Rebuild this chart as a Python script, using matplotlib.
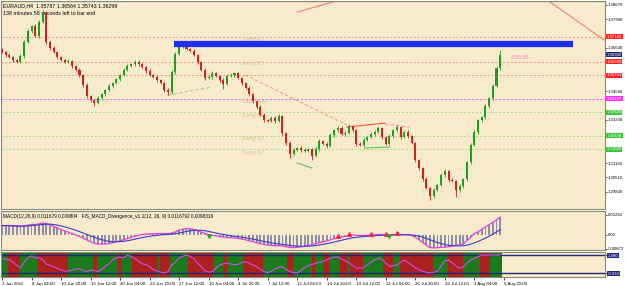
import numpy as np
import matplotlib.pyplot as plt
from matplotlib.transforms import blended_transform_factory

plt.rcParams["font.family"] = ["Liberation Sans", "DejaVu Sans"]

# ---- data (H4 candles, one entry per drawn candle) ----
first_open = 1.3654
closes = [
    1.3644, 1.3630, 1.3620, 1.3606, 1.3597, 1.3625, 1.3691, 1.3743, 1.3767, 1.3720,
    1.3786, 1.3829, 1.3691, 1.3663, 1.3644, 1.3620, 1.3606, 1.3597, 1.3601, 1.3578,
    1.3559, 1.3535, 1.3488, 1.3436, 1.3417, 1.3403, 1.3426, 1.3445, 1.3464, 1.3483,
    1.3497, 1.3516, 1.3535, 1.3559, 1.3578, 1.3587, 1.3597, 1.3587, 1.3573, 1.3554,
    1.3535, 1.3526, 1.3512, 1.3497, 1.3464, 1.3455, 1.3549, 1.3635, 1.3677, 1.3672,
    1.3658, 1.3649, 1.3630, 1.3597, 1.3559, 1.3521, 1.3526, 1.3545, 1.3531, 1.3512,
    1.3493, 1.3531, 1.3535, 1.3545, 1.3521, 1.3497, 1.3474, 1.3445, 1.3412, 1.3384,
    1.3346, 1.3322, 1.3318, 1.3332, 1.3318, 1.3341, 1.3261, 1.3214, 1.3162, 1.3181,
    1.3190, 1.3181, 1.3176, 1.3185, 1.3152, 1.3185, 1.3223, 1.3209, 1.3199, 1.3251,
    1.3275, 1.3285, 1.3256, 1.3261, 1.3294, 1.3275, 1.3209, 1.3204, 1.3228, 1.3242,
    1.3256, 1.3266, 1.3285, 1.3242, 1.3209, 1.3247, 1.3275, 1.3289, 1.3242, 1.3266,
    1.3247, 1.3214, 1.3133, 1.3095, 1.3043, 1.3001, 1.2963, 1.2991, 1.3015, 1.3062,
    1.3081, 1.3039, 1.3034, 1.2991, 1.3010, 1.3043, 1.3124, 1.3204, 1.3266, 1.3322,
    1.3337, 1.3389, 1.3426, 1.3483, 1.3568, 1.3630,
]
# wick lengths in pips above max(open, close) and below min(open, close)
hi_wick = [
    8, 6, 7, 5, 6, 9, 8, 10, 7, 9, 8, 14, 7, 6, 8, 5, 6, 7, 9, 6,
    5, 7, 6, 8, 6, 5, 9, 7, 6, 8, 5, 7, 6, 9, 8, 6, 10, 7, 5, 6,
    8, 6, 7, 5, 6, 8, 9, 11, 14, 8, 7, 6, 9, 5, 6, 8, 10, 7, 6, 5,
    8, 7, 9, 6, 5, 7, 6, 8, 5, 6, 7, 9, 6, 8, 7, 10, 6, 5, 7, 9,
    6, 8, 7, 6, 5, 8, 9, 6, 7, 8, 6, 9, 7, 8, 10, 6, 5, 8, 7, 6,
    9, 7, 10, 6, 5, 8, 7, 9, 6, 8, 7, 6, 5, 7, 6, 8, 5, 9, 7, 8,
    10, 6, 7, 5, 8, 7, 6, 9, 8, 7, 6, 8, 7, 9, 10, 24,
]
lo_wick = [
    7, 8, 6, 9, 7, 6, 8, 5, 7, 6, 8, 6, 7, 9, 5, 8, 6, 7, 5, 8,
    6, 7, 9, 8, 10, 14, 7, 6, 8, 5, 7, 6, 8, 5, 7, 6, 8, 7, 6, 9,
    5, 7, 8, 6, 9, 14, 8, 7, 6, 8, 5, 7, 6, 8, 7, 9, 6, 8, 7, 9,
    25, 7, 6, 8, 5, 7, 6, 8, 7, 9, 6, 8, 7, 6, 9, 7, 8, 10, 19, 7,
    6, 8, 5, 7, 19, 6, 8, 7, 9, 6, 8, 7, 6, 9, 5, 7, 8, 6, 9, 7,
    6, 8, 5, 9, 7, 6, 8, 7, 9, 6, 8, 7, 10, 8, 9, 7, 19, 8, 6, 7,
    9, 8, 7, 33, 8, 9, 7, 8, 6, 9, 7, 10, 8, 7, 6, 8,
]

macd_main = [
    0.0057, 0.0058, 0.0058, 0.0057, 0.0055, 0.0054, 0.0057, 0.0062, 0.0066, 0.0066,
    0.0070, 0.0076, 0.0072, 0.0063, 0.0054, 0.0044, 0.0034, 0.0025, 0.0017, 0.0008,
    0.0000, -0.0010, -0.0020, -0.0032, -0.0043, -0.0052, -0.0057, -0.0058, -0.0057, -0.0054,
    -0.0049, -0.0043, -0.0037, -0.0030, -0.0022, -0.0015, -0.0008, -0.0003, 0.0002, 0.0005,
    0.0007, 0.0008, 0.0009, 0.0009, 0.0008, 0.0008, 0.0012, 0.0020, 0.0030, 0.0036,
    0.0039, 0.0038, 0.0034, 0.0027, 0.0018, 0.0009, 0.0002, -0.0002, -0.0006, -0.0010,
    -0.0014, -0.0016, -0.0018, -0.0019, -0.0022, -0.0026, -0.0031, -0.0037, -0.0043, -0.0049,
    -0.0055, -0.0060, -0.0064, -0.0066, -0.0068, -0.0067, -0.0070, -0.0074, -0.0079, -0.0080,
    -0.0078, -0.0075, -0.0071, -0.0066, -0.0062, -0.0056, -0.0049, -0.0043, -0.0038, -0.0031,
    -0.0024, -0.0017, -0.0012, -0.0008, -0.0003, 0.0000, -0.0002, -0.0004, -0.0004, -0.0003,
    -0.0001, 0.0001, 0.0003, 0.0002, -0.0001, 0.0000, 0.0002, 0.0004, 0.0002, 0.0002,
    0.0001, -0.0003, -0.0015, -0.0030, -0.0048, -0.0065, -0.0080, -0.0082, -0.0080, -0.0077,
    -0.0078, -0.0075, -0.0070, -0.0066, -0.0062, -0.0057, -0.0035, -0.0015, 0.0008, 0.0020,
    0.0035, 0.0050, 0.0065, 0.0080, 0.0095, 0.0112,
]
macd_signal = [
    0.0060, 0.0059, 0.0059, 0.0058, 0.0057, 0.0056, 0.0056, 0.0057, 0.0059, 0.0061,
    0.0063, 0.0066, 0.0068, 0.0068, 0.0066, 0.0062, 0.0057, 0.0051, 0.0044, 0.0037,
    0.0029, 0.0021, 0.0012, 0.0003, -0.0006, -0.0015, -0.0023, -0.0030, -0.0036, -0.0040,
    -0.0043, -0.0043, -0.0042, -0.0040, -0.0036, -0.0032, -0.0027, -0.0022, -0.0017, -0.0012,
    -0.0008, -0.0005, -0.0002, 0.0000, 0.0002, 0.0003, 0.0005, 0.0008, 0.0012, 0.0017,
    0.0022, 0.0026, 0.0029, 0.0030, 0.0029, 0.0026, 0.0022, 0.0017, 0.0012, 0.0007,
    0.0003, -0.0001, -0.0005, -0.0008, -0.0011, -0.0014, -0.0018, -0.0022, -0.0026, -0.0031,
    -0.0036, -0.0041, -0.0046, -0.0050, -0.0054, -0.0057, -0.0060, -0.0063, -0.0066, -0.0069,
    -0.0071, -0.0072, -0.0072, -0.0071, -0.0069, -0.0067, -0.0063, -0.0059, -0.0055, -0.0050,
    -0.0045, -0.0039, -0.0034, -0.0028, -0.0023, -0.0018, -0.0015, -0.0012, -0.0010, -0.0008,
    -0.0006, -0.0005, -0.0003, -0.0002, -0.0001, -0.0001, 0.0000, 0.0001, 0.0001, 0.0001,
    0.0001, 0.0000, -0.0003, -0.0007, -0.0014, -0.0022, -0.0031, -0.0040, -0.0048, -0.0055,
    -0.0061, -0.0065, -0.0068, -0.0069, -0.0069, -0.0068, -0.0064, -0.0058, -0.0050, -0.0041,
    -0.0031, -0.0020, -0.0008, 0.0005, 0.0019, 0.0034,
]
div_bear_idx = [91, 94, 100, 104, 107]
div_bull_idx = [56, 105]

stoch = [
    80, 78, 74, 60, 42, 30, 60, 85, 95, 85, 85, 75, 50, 42, 36, 25, 18, 10, 12, 17,
    22, 24, 14, 9, 16, 15, 9, 20, 38, 52, 73, 85, 88, 85, 100, 90, 82, 65, 52, 46,
    35, 18, 12, 5, 0, 9, 45, 60, 85, 93, 100, 92, 80, 55, 35, 12, 5, 8, 28, 45,
    52, 55, 50, 47, 48, 60, 62, 56, 45, 36, 20, 8, 2, 10, 25, 30, 36, 20, 9, 2,
    0, 15, 30, 42, 47, 55, 60, 64, 74, 82, 88, 90, 78, 68, 58, 42, 28, 27, 30, 45,
    60, 75, 82, 75, 55, 38, 40, 45, 60, 72, 60, 45, 30, 18, 10, 4, 0, 5, 9, 40,
    70, 70, 58, 40, 27, 35, 55, 72, 82, 92, 100, 100, 100, 100, 100, 100,
]
block_edges = [-0.5, 1.6, 4.9, 9.5, 17.9, 24.7, 25.7, 31.4, 32.5, 35.2, 42, 42.8, 45.5,
               50.4, 57.2, 59.9, 61, 65.3, 70.7, 77.2, 78.9, 84, 84.8, 87, 88.9, 91.6,
               93.5, 94.3, 97.8, 103.3, 106, 107.9, 116.8, 120.9, 124.9, 129.5, 132.2, 135.5]
block_bull = [1, 0] * 18 + [1]

date_labels = ["3 Jun 2011", "8 Jun 04:00", "10 Jun 20:00", "15 Jun 12:00", "20 Jun 04:00",
               "22 Jun 20:00", "27 Jun 12:00", "30 Jun 04:00", "4 Jul 20:00", "7 Jul 12:00",
               "12 Jul 04:00", "14 Jul 20:00", "19 Jul 12:00", "22 Jul 04:00", "26 Jul 20:00",
               "29 Jul 12:00", "3 Aug 04:00", "5 Aug 20:00"]
price_ticks = [1.38670, 1.37990, 1.36630, 1.34590, 1.33230, 1.31190, 1.30510, 1.29830]

level_prices = [1.37160, 1.35980, 1.35350, 1.34220, 1.33600, 1.32470, 1.31850]
level_kind = ["res", "res", "res", "pivot", "sup", "sup", "sup"]
swing_names = ["Swing R2", "Swing R1", "Daily Pivot", "Swing S1", "Swing S2", "Swing S3"]
swing_prices = [1.3701, 1.3592, 1.3408, 1.3346, 1.3237, 1.3171]

zone_start, zone_end, zone_price = 46.6, 154.7, 1.3682
trend_solid = [((80, 1.3833), (91.6, 1.3890), "#f08070"),
               ((147.7, 1.3890), (164, 1.3691), "#f08070"),
               ((93.5, 1.3289), (103.8, 1.3308), "#ff5050"),
               ((80, 1.3119), (84, 1.3095), "#60c060"),
               ((98.4, 1.3190), (105.1, 1.3195), "#60c060")]
trend_dashed = [((45, 1.3441), (56.9, 1.3478), "#a0d080"),
                ((65.9, 1.3535), (93.5, 1.3299), "#f4a080"),
                ((103.8, 1.3303), (110.6, 1.3289), "#f4a080")]

# ---- figure ----
W, H = 625, 286
fig = plt.figure(figsize=(W / 100, H / 100), dpi=100, facecolor="white")
bg = "#f7ebcb"
edge = "#8a8a70"
navy = "#202878"


def pane(top, bottom):
    a = fig.add_axes([1 / W, 1 - bottom / H, 604 / W, (bottom - top) / H])
    a.set_facecolor(bg)
    for s in a.spines.values():
        s.set_color(edge)
        s.set_linewidth(0.8)
    a.yaxis.tick_right()
    a.tick_params(axis="y", labelsize=3.1, length=1.5, pad=0.5, colors="black", width=0.5)
    a.set_xlim(-0.27, 163.4)
    return a


ax = pane(0.5, 209)
ax_m = pane(211, 250)
ax_s = pane(252, 277)

n = len(closes)
idx = np.arange(n)
c = np.array(closes)
o = np.concatenate([[first_open], c[:-1]])
hi = np.maximum(o, c) + np.array(hi_wick) * 0.0001
lo = np.minimum(o, c) - np.array(lo_wick) * 0.0001
up = c >= o
col = np.where(up, "#1ea01e", "#d42020")

# levels
for p, k in zip(level_prices, level_kind):
    lc = {"res": "#f09070", "pivot": "#ff50ff", "sup": "#a0dc80"}[k]
    ax.axhline(p, color=lc, lw=0.7, ls=(0, (2, 2)), zorder=1)
ax.axhline(1.3885, color="#c8b488", lw=1.0, zorder=1)
for name, p in zip(swing_names, swing_prices):
    ax.text(65, p, name, fontsize=3.6, color="#d2c29a", va="center", zorder=1)

for (x0, y0), (x1, y1), lc in trend_solid:
    ax.plot([x0, x1], [y0, y1], color=lc, lw=0.8, zorder=2)
for (x0, y0), (x1, y1), lc in trend_dashed:
    ax.plot([x0, x1], [y0, y1], color=lc, lw=0.8, ls=(0, (3, 2)), zorder=2)

# candles
ax.vlines(idx, lo, hi, color=col, lw=0.6, zorder=3)
ax.bar(idx, np.abs(c - o) + 0.00015, bottom=np.minimum(o, c), width=0.55,
       color=col, lw=0, zorder=4)

ax.hlines(zone_price, zone_start, zone_end, color="#1f2fe8", lw=4.5, zorder=5)
ax.text(137.5, 1.3616, "+536.85", fontsize=3.8, color="#ff80c0", va="center")

ax.set_ylim(1.3890 - 0.000473 * 209, 1.3890 - 0.000473 * 0.5)
ax.set_yticks(price_ticks)
ax.set_yticklabels([f"{v:.5f}" for v in price_ticks])
ax.set_xticks([])

# price boxes on the right axis
tr = blended_transform_factory(ax.transAxes, ax.transData)
box_col = {"res": "#ff2020", "pivot": "#ff30ff", "sup": "#3cc43c"}
box_prices = level_prices + [closes[-1]]
box_fc = [box_col[k] for k in level_kind] + [navy]
for p, fc in zip(box_prices, box_fc):
    ax.text(1.003, p, f"{p:.5f}", transform=tr, fontsize=3.1, color="white",
            va="center", ha="left", clip_on=False,
            bbox=dict(boxstyle="square,pad=0.12", fc=fc, ec="none"))

ax.text(0.004, 0.985, "EURAUD,H4  1.35787 1.36564 1.35743 1.36299", transform=ax.transAxes,
        fontsize=3.8, va="top", ha="left")
ax.text(0.004, 0.952, "138 minutes 58 seconds left to bar end", transform=ax.transAxes,
        fontsize=3.8, va="top", ha="left")

# MACD pane
ax_m.bar(idx, macd_main, width=0.5, color="#8e8ea4", lw=0)
ax_m.plot(idx, macd_main, color="#e040e0", lw=0.9)
ax_m.plot(idx, macd_signal, color="#3a3ac8", lw=0.8)
ax_m.plot(div_bear_idx, np.array(macd_main)[div_bear_idx] + 0.0009, ls="none",
          marker="^", ms=2.6, color="#ff2040")
ax_m.plot(div_bull_idx, np.array(macd_main)[div_bull_idx] - 0.0009, ls="none",
          marker="v", ms=2.6, color="#30a030")
ax_m.set_ylim(-0.0095, 0.0151)
ax_m.set_yticks([0.01262, 0.0, -0.00872])
ax_m.set_yticklabels(["0.01262", "0.00", "-0.00872"])
ax_m.set_xticks([])
ax_m.text(0.004, 0.93, "MACD(12,26,9) 0.011679 0.009804   FIS_MACD_Divergence_v1.1(12, 26, 9) "
          "0.0116792 0.0098316", transform=ax_m.transAxes, fontsize=3.4, va="top")

# lower oscillator pane
for i, b in enumerate(block_bull):
    ax_s.axvspan(block_edges[i], block_edges[i + 1], color="#1b7a1b" if b else "#ad2020",
                 lw=0, zorder=1)
ax_s.axhline(100, color=navy, lw=1.0, zorder=2)
ax_s.axhline(0, color=navy, lw=1.0, zorder=2)
ax_s.plot(idx, stoch, color="#d050e8", lw=0.8, zorder=3)
ax_s.set_ylim(-22, 117)
ax_s.set_yticks([100, 0])
ax_s.set_yticklabels(["1.480", "-0.234"])
for lab in ax_s.get_yticklabels():
    lab.set_color("white")
    lab.set_bbox(dict(boxstyle="square,pad=0.1", fc=navy, ec="none"))
ax_s.set_xticks(np.arange(len(date_labels)) * 8)
ax_s.set_xticklabels(date_labels, fontsize=3.2, ha="left")
ax_s.tick_params(axis="x", length=2, pad=1.5, width=0.5)

fig.savefig("out.png", dpi=100, facecolor="white")
